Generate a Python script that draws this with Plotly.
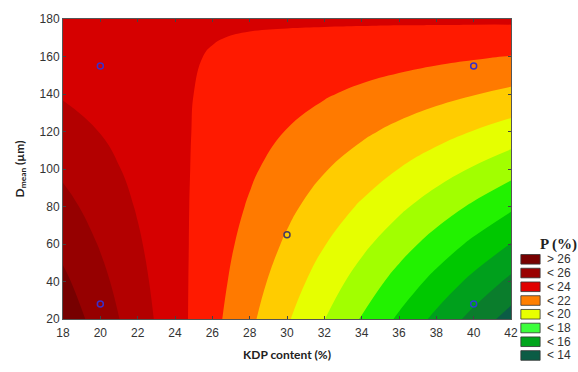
import plotly.graph_objects as go

# ---- data ----
kdp = [18, 20, 22, 24, 26, 28, 30, 32, 34, 36, 38, 40, 42]          # KDP content (%)
dmean = [20, 40, 60, 80, 100, 120, 140, 160, 170, 180]                 # D_mean (um)
P = [
    [26.65, 25.56, 24.47, 23.38, 22.29, 21.20, 20.11, 19.02, 17.93, 16.84, 15.75, 14.66, 13.57],
    [26.20, 25.25, 24.29, 23.34, 22.39, 21.44, 20.48, 19.53, 18.58, 17.63, 16.68, 15.72, 14.77],
    [25.74, 24.93, 24.11, 23.30, 22.49, 21.67, 20.86, 20.04, 19.23, 18.41, 17.60, 16.79, 15.97],
    [25.29, 24.61, 23.93, 23.26, 22.58, 21.91, 21.23, 20.55, 19.88, 19.20, 18.52, 17.85, 17.17],
    [24.83, 24.29, 23.76, 23.22, 22.68, 22.14, 21.60, 21.06, 20.53, 19.99, 19.45, 18.91, 18.37],
    [24.38, 23.98, 23.58, 23.18, 22.77, 22.37, 21.97, 21.57, 21.17, 20.77, 20.37, 19.97, 19.57],
    [23.92, 23.66, 23.40, 23.13, 22.87, 22.61, 22.35, 22.08, 21.82, 21.56, 21.30, 21.04, 20.77],
    [23.47, 23.34, 23.22, 23.09, 22.97, 22.84, 22.72, 22.60, 22.47, 22.35, 22.22, 22.10, 21.97],
    [23.24, 23.18, 23.13, 23.07, 23.02, 22.96, 22.91, 22.85, 22.80, 22.74, 22.69, 22.63, 22.58],
    [23.01, 23.02, 23.04, 23.05, 23.07, 23.08, 23.09, 23.11, 23.12, 23.13, 23.15, 23.16, 23.18],
]
design_kdp = [20, 20, 30, 40, 40]
design_dmean = [28, 155, 65, 28, 155]
design_colors = ["#3b2fc9", "#3b2fc9", "#4a3a60", "#2f3fd0", "#3b2fc9"]

level_start, level_end, level_step = 14, 26, 1
band_colors = [  # from < 14 up to > 26
    "#0b5c45", "#0a7d2c", "#00a01c", "#00c800", "#22f200", "#a2ff00", "#e6ff00",
    "#ffcc00", "#ff7a00", "#ff1a00", "#d60000", "#b30000", "#960000", "#770000",
]
legend_labels = ["> 26", "< 26", "< 24", "< 22", "< 20", "< 18", "< 16", "< 14"]
legend_colors = ["#770000", "#9a0000", "#e00000", "#ff7f00", "#e8ff00", "#3cff3c", "#00a51c", "#0b5c45"]

# ---- figure ----
n = len(band_colors)
colorscale = []
for i, c in enumerate(band_colors):
    colorscale.append([i / n, c])
    colorscale.append([(i + 1) / n, c])

fig = go.Figure()
fig.add_trace(go.Contour(
    x=kdp, y=dmean, z=P,
    colorscale=colorscale,
    zmin=level_start - level_step, zmax=level_end + level_step,
    contours=dict(start=level_start, end=level_end, size=level_step, coloring="fill"),
    line=dict(width=0, smoothing=1.3),
    showscale=False, hoverinfo="skip",
))
fig.add_trace(go.Scatter(
    x=design_kdp, y=design_dmean, mode="markers",
    marker=dict(symbol="circle-open", size=6, color=design_colors, line=dict(width=1.5)),
    showlegend=False, hoverinfo="skip",
))

axis_common = dict(
    showgrid=False, zeroline=False, ticks="inside", ticklen=3, tickcolor="#444",
    showline=True, linecolor="#555", linewidth=1, mirror="ticks",
    tickfont=dict(family="Liberation Sans, Arial", size=12, color="#333"),
)
fig.update_xaxes(range=[18, 42], dtick=2, tick0=18, ticklabelstandoff=3,
                 title=dict(text="<b>KDP content (%)</b>", font=dict(family="Lato", size=12, color="#222"), standoff=11),
                 **axis_common)
fig.update_yaxes(range=[20, 180], dtick=20, tick0=20,
                 title=dict(text="<b>D<sub>mean</sub> (µm)</b>", font=dict(family="Lato", size=12, color="#222"), standoff=12),
                 **axis_common)

# legend drawn as boxes + labels
shapes = []
annotations = [dict(
    x=1.105, y=0.25, xref="paper", yref="paper", xanchor="center", yanchor="middle",
    text="<b>P (%)</b>", showarrow=False,
    font=dict(family="Liberation Serif, Times New Roman", size=15, color="#222"),
)]
for i, (lab, col) in enumerate(zip(legend_labels, legend_colors)):
    ytop = 0.215 - i * 0.0458
    shapes.append(dict(type="rect", xref="paper", yref="paper",
                       x0=1.022, x1=1.065, y0=ytop - 0.032, y1=ytop,
                       fillcolor=col, line=dict(color="#333", width=0.8)))
    annotations.append(dict(x=1.075, y=ytop - 0.016, xref="paper", yref="paper",
                            xanchor="left", yanchor="middle", text=lab, showarrow=False,
                            font=dict(family="Liberation Sans, Arial", size=12, color="#333")))

fig.update_layout(
    width=578, height=372,
    margin=dict(l=63, r=67, t=13, b=46),
    paper_bgcolor="white", plot_bgcolor="white",
    shapes=shapes, annotations=annotations,
    showlegend=False,
)
fig.write_html("out.html")
